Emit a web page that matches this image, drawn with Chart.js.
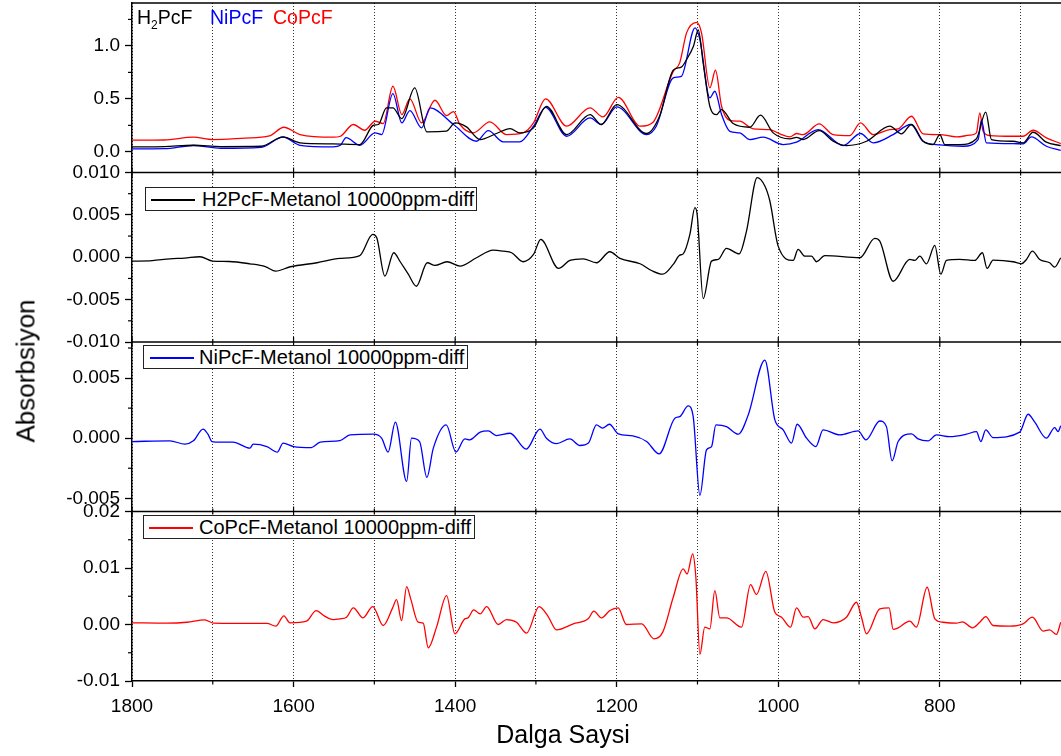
<!DOCTYPE html>
<html>
<head>
<meta charset="utf-8">
<script src="https://cdn.jsdelivr.net/npm/chart.js@4.4.1/dist/chart.umd.min.js"></script>
<style>
  body { margin: 0; background: #fff; }
  #wrap { position: relative; width: 1061px; height: 756px; font-family: "Liberation Sans", Arial, sans-serif; color: #000; }
  #chart { position: absolute; left: 0; top: 0; }
  .box { position: absolute; border: 1px solid #222; background: #fff; box-sizing: border-box; height: 24px; }
  .sample { position: absolute; height: 1.5px; width: 44px; }
  .lgtext { position: absolute; font-size: 20px; line-height: 24px; white-space: nowrap; }
  .toplg { position: absolute; top: 6px; font-size: 19.5px; line-height: 22px; white-space: nowrap; }
  #ytitle { position: absolute; left: 26px; top: 371px; font-size: 26px; white-space: nowrap; transform: translate(-50%, -50%) rotate(-90deg); }
  #xtitle { position: absolute; left: 563px; top: 722px; font-size: 25px; line-height: 25px; white-space: nowrap; transform: translateX(-50%); }
</style>
</head>
<body>
<div id="wrap">
  <canvas id="chart" width="1061" height="756"></canvas>
  <div class="toplg" style="left:137px;">H<sub style="font-size:12px">2</sub>PcF</div>
  <div class="toplg" style="left:210px; color:#0000ff;">NiPcF</div>
  <div class="toplg" style="left:273px; color:#ff0000;">CoPcF</div>

  <div class="box" style="left:145px; top:187px; width:332px;"></div>
  <div class="sample" style="left:151px; top:199px; background:#000;"></div>
  <div class="lgtext" style="left:202px; top:187px;">H2PcF-Metanol 10000ppm-diff</div>

  <div class="box" style="left:143px; top:345px; width:325px;"></div>
  <div class="sample" style="left:150px; top:357px; background:#0000ff;"></div>
  <div class="lgtext" style="left:199px; top:345px;">NiPcF-Metanol 10000ppm-diff</div>

  <div class="box" style="left:143px; top:515px; width:332px;"></div>
  <div class="sample" style="left:149px; top:527px; background:#ff0000;"></div>
  <div class="lgtext" style="left:199px; top:515px;">CoPcF-Metanol 10000ppm-diff</div>

  <div id="ytitle">Absorbsiyon</div>
  <div id="xtitle">Dalga Saysi</div>
</div>
<script>
// x ticks (wavenumber), every 100, labelled every 200
const xTicks = [1800, 1700, 1600, 1500, 1400, 1300, 1200, 1100, 1000, 900, 800, 700];

// panel tick values
const absTicks = [0, 0.5, 1.0];
const absMinor = [0.25, 0.75, 1.25];
const h2DiffTicks = [-0.010, -0.005, 0, 0.005, 0.010];
const h2DiffMinor = [-0.0075, -0.0025, 0.0025, 0.0075];
const niDiffTicks = [-0.005, 0, 0.005];
const niDiffMinor = [-0.0025, 0.0025, 0.0075];
const coDiffTicks = [-0.01, 0, 0.01, 0.02];
const coDiffMinor = [-0.005, 0.005, 0.015];

// top panel: absorbance spectra
const h2Wn = [1800, 1760, 1724, 1690, 1640, 1613, 1592, 1551, 1518, 1501, 1495, 1485, 1477, 1466, 1450, 1435, 1411, 1400, 1386, 1369, 1349, 1332, 1320, 1303, 1287, 1262, 1233, 1219, 1200, 1163, 1147, 1130, 1120, 1113.5, 1105, 1099, 1093, 1084.7, 1076.4, 1070.2, 1055.8, 1035.2, 1022, 1006.3, 985.7, 977.4, 969.2, 949.4, 932, 915.6, 890.8, 861.9, 847.5, 835.1, 820.7, 808.3, 800, 793.9, 775.3, 754.7, 743.1, 736.1, 709.3, 696.9, 684.6, 668.1, 650.3];
const h2Abs = [0.047, 0.05, 0.062, 0.05, 0.053, 0.141, 0.085, 0.075, 0.069, 0.251, 0.258, 0.415, 0.415, 0.314, 0.604, 0.189, 0.195, 0.273, 0.236, 0.116, 0.173, 0.22, 0.179, 0.226, 0.43, 0.163, 0.352, 0.258, 0.446, 0.173, 0.336, 0.77, 0.80, 0.871, 0.996, 1.15, 0.84, 0.43, 0.352, 0.399, 0.267, 0.232, 0.346, 0.179, 0.123, 0.137, 0.116, 0.2, 0.1, 0.059, 0.1, 0.242, 0.17, 0.258, 0.1, 0.069, 0.163, 0.069, 0.069, 0.123, 0.374, 0.116, 0.1, 0.085, 0.185, 0.091, 0.059];

const niWn = [1800, 1760, 1724, 1690, 1640, 1613, 1592, 1551, 1542, 1535, 1518, 1499, 1491, 1477, 1466, 1456, 1441.5, 1431, 1402, 1373.5, 1359, 1340.5, 1320, 1303, 1288, 1262, 1233, 1219, 1200, 1163, 1151, 1130, 1120, 1103, 1097, 1084.7, 1078.5, 1070.2, 1060, 1047.6, 1035, 1018.7, 994, 977.4, 950.6, 919.7, 898.2, 882.6, 857.8, 835.9, 820.7, 800, 771.2, 752.6, 748.5, 742.3, 709.3, 696.9, 686.6, 668.1, 650.3];
const niAbs = [0.028, 0.03, 0.06, 0.034, 0.043, 0.138, 0.062, 0.047, 0.062, 0.135, 0.062, 0.179, 0.163, 0.55, 0.273, 0.39, 0.226, 0.415, 0.258, 0.1, 0.2, 0.094, 0.094, 0.242, 0.42, 0.147, 0.32, 0.258, 0.425, 0.163, 0.242, 0.698, 0.713, 1.17, 1.06, 0.509, 0.572, 0.352, 0.194, 0.179, 0.116, 0.138, 0.069, 0.091, 0.21, 0.059, 0.173, 0.085, 0.163, 0.258, 0.1, 0.066, 0.053, 0.116, 0.298, 0.085, 0.078, 0.075, 0.141, 0.053, 0.015];

const coWn = [1800, 1760, 1724, 1700, 1660, 1630, 1612, 1592, 1551, 1542, 1526, 1512, 1499, 1489, 1477, 1466, 1456, 1441.5, 1425, 1410.6, 1402, 1394, 1377.6, 1357, 1336.4, 1315.7, 1303, 1288, 1262, 1233, 1217, 1198, 1171, 1155, 1130, 1122, 1113.5, 1101, 1095, 1084.7, 1077.7, 1070.2, 1060, 1047.6, 1031, 1010.4, 998, 985.7, 977.4, 969.2, 949.4, 932, 911.4, 898.2, 882.6, 861.9, 851.6, 835.1, 820.7, 800, 779.4, 762.9, 754.7, 750.5, 746.4, 738.2, 709.3, 696.9, 684.6, 668.1, 650.3];
const coAbs = [0.11, 0.112, 0.138, 0.116, 0.13, 0.15, 0.232, 0.163, 0.138, 0.147, 0.258, 0.204, 0.289, 0.267, 0.619, 0.352, 0.5, 0.273, 0.487, 0.342, 0.38, 0.258, 0.179, 0.283, 0.163, 0.179, 0.273, 0.5, 0.242, 0.415, 0.33, 0.515, 0.242, 0.28, 0.76, 0.84, 1.123, 1.223, 1.123, 0.604, 0.77, 0.43, 0.298, 0.289, 0.217, 0.21, 0.17, 0.141, 0.173, 0.163, 0.264, 0.163, 0.154, 0.273, 0.163, 0.21, 0.217, 0.336, 0.17, 0.163, 0.141, 0.157, 0.179, 0.368, 0.195, 0.154, 0.147, 0.147, 0.204, 0.132, 0.078];

// difference spectra
const h2DiffWn = [1800, 1775, 1753, 1735, 1716, 1700, 1680, 1654, 1635, 1622, 1604, 1571, 1542.6, 1518, 1502, 1497, 1487, 1476, 1468, 1458, 1448, 1434.5, 1425, 1410, 1394, 1373.5, 1353, 1340.5, 1330, 1315.7, 1303, 1294, 1272, 1258, 1241.5, 1225, 1208.5, 1196, 1171, 1157, 1143, 1130, 1122, 1117.7, 1109.4, 1103.2, 1100.4, 1092.9, 1082.6, 1074.4, 1064.1, 1048.4, 1039.3, 1026.1, 1016.6, 1010.4, 1000.1, 981.6, 975.4, 967.1, 958.9, 952.7, 942.4, 899.1, 880.5, 874.3, 857.8, 837.2, 831, 824.8, 816.6, 806.2, 798.8, 791.8, 775.3, 756.7, 747.3, 741.5, 734.1, 709.3, 699.1, 692.8, 685.4, 676.3, 664, 657.8, 650.3];
const h2Diff = [-0.00046, -0.0004, -0.00018, -0.0001, 0.00006, -0.00046, -0.0005, -0.00077, -0.0011, -0.00164, -0.00112, -0.00065, -0.00014, 0.0002, 0.0027, 0.0023, -0.00223, 0.00053, -0.00053, -0.002, -0.00342, -0.00065, -0.00097, -0.00053, -0.00105, -0.00006, 0.00084, 0.00072, 0.00053, -0.00053, 0.00033, 0.0021, -0.00132, -0.00038, -0.00018, -0.00065, 0.00065, -0.00014, -0.00077, -0.00156, -0.002, -0.00085, 0.00025, 0.0004, 0.0027, 0.00586, 0.00506, -0.00488, -0.00046, -0.00026, 0.00104, 0.0004, 0.00309, 0.0094, 0.00841, 0.00664, 0.00131, -0.00038, 0.00092, 0.00013, 0.00013, -0.00053, 0.0002, -0.00006, 0.00222, 0.0019, -0.00283, -0.00026, -0.00038, 0.00013, -0.00077, 0.0014, -0.002, -0.00038, -0.00026, -0.00038, 0.00053, -0.00132, -0.00034, -0.00053, -0.00077, -0.00026, 0.00072, -0.00026, -0.00065, -0.00117, -0.00006];

const niDiffWn = [1800, 1753, 1734.5, 1724, 1712, 1706, 1701, 1691, 1675, 1654, 1650, 1633, 1620, 1613, 1600, 1578, 1567, 1542.6, 1530, 1501, 1491, 1483, 1474, 1460, 1454, 1444, 1435, 1427, 1411, 1399, 1388, 1382, 1369, 1359, 1349, 1332, 1312, 1295, 1287, 1274.5, 1258, 1245.6, 1235, 1225, 1217.6, 1209, 1198, 1180, 1163, 1147.4, 1128, 1121.9, 1111.5, 1105.3, 1097, 1088.8, 1082.6, 1077.2, 1064.1, 1049.6, 1037.2, 1016.6, 1004.2, 993.9, 983.6, 976.6, 965, 953.5, 944.5, 923.8, 901.1, 891.6, 874.3, 866.1, 859.1, 851.6, 835.1, 826.9, 814.5, 804.2, 787.7, 767.1, 754.7, 749.3, 743.1, 734.1, 701.1, 690.7, 682.5, 668.1, 657.8, 653.6, 650.3];
const niDiff = [-0.00028, -0.00022, -0.0005, -0.00022, 0.00075, 0.00033, -0.00028, -0.00033, -0.00033, -0.00083, -0.0005, -0.0007, -0.00116, -0.00041, -0.0007, -0.00078, -0.00033, -0.0002, 0.00027, 0.00033, 0, -0.00116, 0.00133, -0.0036, 0, -0.00028, -0.00326, -0.00083, 0.0011, -0.00116, -0.00006, -0.00014, 0.0005, 0.0006, 0.00022, 0.00041, -0.00091, 0.00075, 0, -0.00045, -0.00006, -0.00061, -0.00041, 0.0011, 0.00083, 0.00116, 0.00036, 0.00019, -0.00028, -0.0013, 0.00166, 0.00179, 0.00268, 0.00179, -0.00476, -0.00097, -0.0007, 0.0011, 0.00096, 0.00033, 0.00193, 0.00649, 0.00152, 0.00069, -0.00041, 0.00116, 0, -0.0007, 0.00069, 0.00027, 0.0006, -0.00014, 0.00143, 0.00096, -0.00188, -0.00028, 0.00036, -0.00006, -0.00022, 0.00027, 0.00013, 0.00033, 0.00055, -0.00028, 0.00069, 0.00005, 0.0005, 0.00199, 0.00133, 0, 0.00088, 0.00055, 0.00104];

const coDiffWn = [1800, 1757, 1732, 1710, 1699, 1674.5, 1633, 1622, 1612, 1604.5, 1584, 1572, 1562, 1551, 1542.6, 1534.4, 1526, 1514, 1502, 1489, 1477.4, 1472.5, 1466.3, 1460, 1455, 1445.7, 1439.5, 1433.3, 1423, 1410.6, 1400.3, 1388, 1384, 1377, 1369, 1361, 1346.7, 1336.4, 1324, 1311.6, 1296, 1284.8, 1274.5, 1253.8, 1235.3, 1228.3, 1218.8, 1208.5, 1198.2, 1188, 1169, 1154, 1143, 1130, 1117.7, 1112.8, 1106, 1102, 1097, 1091, 1084.7, 1078.5, 1072.3, 1064, 1045.5, 1034.3, 1027, 1015.4, 1004.2, 996, 984.8, 977.4, 969, 963, 954.7, 944.4, 932, 915.6, 903.2, 897, 890.8, 874.3, 862.8, 857.8, 851.6, 837.2, 829, 815.7, 806.2, 796, 779.4, 772, 759.6, 750.5, 743.1, 734.1, 713.4, 697, 685.4, 672, 664, 655.7, 650.3];
const coDiff = [0.0003, 0.00024, 0.0004, 0.00083, 0.00024, 0.0002, 0.0002, -0.0003, 0.00153, 0.0003, 0.00059, 0.00247, 0.00153, 0.00088, 0.001, 0.00129, 0.00294, 0.00118, 0.00318, -0.00018, 0.00294, 0.00441, 0.0007, 0.0067, 0.00453, 0.0004, 0.00024, -0.00412, -0.00047, 0.00512, -0.00165, 0.001, 0.00118, 0.00259, 0.00188, 0.00318, 0, 0.00088, 0.0004, -0.00153, 0.00318, 0.00141, -0.00094, 0.00012, 0.001, 0.00235, 0.00118, 0.00247, 0.00294, 0, 0.00012, -0.00253, -0.00135, 0.00482, 0.00983, 0.00894, 0.01248, 0.00835, -0.0053, -0.00047, -0.00077, 0.006, 0.00118, 0.00118, -0.00047, 0.00706, 0.0053, 0.00941, 0.00217, 0.00129, -0.00047, 0.00294, 0.00129, 0.00141, -0.00077, 0.00088, 0.0003, 0.00129, 0.00394, 0.00129, -0.00165, 0.00277, 0.00294, -0.00088, -0.00059, 0.00059, -0.00047, 0.00659, 0.001, 0.0004, 0.00024, 0.00047, -0.00059, 0.0004, 0.00141, -0.00018, -0.00029, 0.00012, 0.00129, -0.00118, -0.00094, -0.00176, 0.0004];

const pts = (xs, ys) => xs.map((x, i) => ({ x: x, y: ys[i] }));

Chart.defaults.font.family = '"Liberation Sans", Arial, sans-serif';
Chart.defaults.color = '#000';

function yAxis(min, max, ticks, digits, weight) {
  return {
    type: 'linear',
    position: 'left',
    stack: 'panels',
    stackWeight: 1,
    weight: weight,
    min: min,
    max: max,
    afterBuildTicks: s => { s.ticks = ticks.map(v => ({ value: v })); },
    afterFit: s => { s.width = 132; s.paddingTop = 0; s.paddingBottom = 0; },
    ticks: { callback: v => v.toFixed(digits), font: { size: 19 }, color: '#000', padding: 5, autoSkip: false },
    grid: { drawOnChartArea: false, color: '#000', tickLength: 7, tickWidth: 1.3 },
    border: { color: '#000', width: 1.5 }
  };
}

function line(ds, color, axis, xs, ys) {
  return {
    label: ds,
    data: pts(xs, ys),
    yAxisID: axis,
    borderColor: color,
    borderWidth: 1.3,
    pointRadius: 0,
    cubicInterpolationMode: 'monotone',
    fill: false
  };
}

const minorTicks = [['yAbs', absMinor], ['yH2', h2DiffMinor], ['yNi', niDiffMinor], ['yCo', coDiffMinor]];

// panel frames, minor ticks
const framePlugin = {
  id: 'frame',
  afterDraw(chart) {
    const ctx = chart.ctx;
    const { left, right, bottom } = chart.chartArea;
    const seg = (x1, y1, x2, y2) => { ctx.beginPath(); ctx.moveTo(x1, y1); ctx.lineTo(x2, y2); ctx.stroke(); };
    ctx.save();
    ctx.strokeStyle = '#000';
    ctx.lineWidth = 1.5;
    const tops = ['yAbs', 'yH2', 'yNi', 'yCo'].map(id => chart.scales[id].top);
    tops.forEach(y => seg(left, y, right, y));
    ctx.lineWidth = 1.2;
    minorTicks.forEach(([id, vals]) => {
      const s = chart.scales[id];
      vals.forEach(v => { const y = s.getPixelForValue(v); seg(left - 4, y, left, y); });
    });
    const xs = chart.scales.x;
    xTicks.forEach(v => {
      const px = xs.getPixelForValue(v);
      const major = v % 200 === 0;
      if (!major) seg(px, bottom, px, bottom + 3.5);
      tops.slice(1).forEach(y => seg(px, y - (major ? 5 : 3), px, y + (major ? 5 : 3)));
    });
    ctx.restore();
  }
};

new Chart(document.getElementById('chart'), {
  type: 'line',
  data: {
    datasets: [
      line('H2PcF', '#000000', 'yAbs', h2Wn, h2Abs),
      line('NiPcF', '#0000ff', 'yAbs', niWn, niAbs),
      line('CoPcF', '#ff0000', 'yAbs', coWn, coAbs),
      line('H2PcF-Metanol 10000ppm-diff', '#000000', 'yH2', h2DiffWn, h2Diff),
      line('NiPcF-Metanol 10000ppm-diff', '#0000ff', 'yNi', niDiffWn, niDiff),
      line('CoPcF-Metanol 10000ppm-diff', '#ff0000', 'yCo', coDiffWn, coDiff)
    ]
  },
  options: {
    responsive: false,
    animation: false,
    devicePixelRatio: 1,
    layout: { padding: { top: 3, right: 0, bottom: 0, left: 0 } },
    plugins: { legend: { display: false }, tooltip: { enabled: false } },
    scales: {
      x: {
        type: 'linear',
        reverse: true,
        min: 650,
        max: 1800,
        afterBuildTicks: s => { s.ticks = xTicks.map(v => ({ value: v })); },
        afterFit: s => { s.height = 75; s.paddingLeft = 0; s.paddingRight = 0; },
        ticks: {
          callback: v => (v % 200 === 0 ? String(v) : ''),
          font: { size: 19 }, color: '#000', padding: 8, autoSkip: false, maxRotation: 0
        },
        grid: {
          color: '#333',
          lineWidth: 1,
          tickLength: 6,
          tickWidth: 1.3,
          tickColor: c => (c.tick && c.tick.value % 200 === 0 ? '#000' : 'rgba(0,0,0,0)')
        },
        border: { color: '#000', width: 1.5, dash: [1, 2] }
      },
      yCo: yAxis(-0.01, 0.02, coDiffTicks, 2, 1),
      yNi: yAxis(-0.0061, 0.008, niDiffTicks, 3, 2),
      yH2: yAxis(-0.010, 0.010, h2DiffTicks, 3, 3),
      yAbs: yAxis(-0.195, 1.405, absTicks, 1, 4)
    }
  },
  plugins: [framePlugin]
});
</script>
</body>
</html>
